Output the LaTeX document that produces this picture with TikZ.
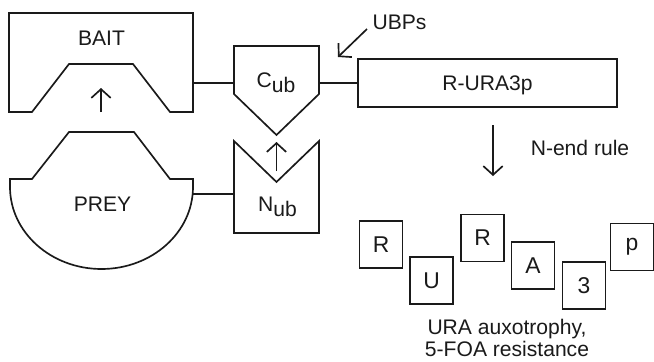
\documentclass[tikz,border=0pt]{standalone}
\usepackage{fontspec}
\setmainfont{Liberation Sans}
\usetikzlibrary{arrows.meta}
\definecolor{Ink}{HTML}{1A1A1A}
\tikzset{
  part/.style={
    draw=Ink, fill=white, line width=0.95pt, line join=miter,
  },
  lnk/.style={
    draw=Ink, line width=0.95pt,
  },
  arr/.style={
    -{Straight Barb[length=5pt,width=11pt]},
    line width=0.95pt, color=Ink,
  },
  lbl/.style={
    font=\fontsize{12}{13}\selectfont, text=Ink,
    inner sep=0pt,
  },
  rbox/.style={
    rectangle, draw=Ink, fill=white, line width=0.95pt,
    font=\fontsize{12}{13}\selectfont, text=Ink, text depth=0pt,
    minimum width=5.18cm, minimum height=0.96cm,
  },
  % one residue of the split reporter
  res/.style={
    rectangle, draw=Ink, fill=white, line width=0.95pt,
    font=\fontsize{13}{15}\selectfont, text=Ink,
    minimum width=0.86cm, minimum height=0.94cm, inner sep=0pt,
  },
}
\newcommand{\halfub}[1]{#1\raisebox{-3.2pt}{ub}}

\begin{document}
\begin{tikzpicture}[x=0.02cm,y=-0.02cm]
  \useasboundingbox (0,0) rectangle (654,362);
  % bait and prey
  \draw[part] (9,13) -- (193,13) -- (193,112) -- (170,112) -- (133,64)
        -- (69,64) -- (32,112) -- (9,112) -- cycle;
  \draw[part] (10,187) -- (10,179) -- (32,179) -- (69,132) -- (134,132)
        -- (170,179) -- (193,179) -- (193,187)
        arc[start angle=0, end angle=180, x radius=91.5, y radius=82] -- cycle;
  \node[lbl, anchor=base] (bait) at (101.5,45.7) {BAIT};
  \node[lbl, anchor=base] (prey) at (102.5,211) {PREY};
  % ubiquitin halves
  \draw[part] (234,46) -- (319,46) -- (319,94) -- (276.5,135) -- (234,94) -- cycle;
  \draw[part] (234,141) -- (276.5,182) -- (319,141) -- (319,233) -- (234,233) -- cycle;
  \node[lbl, anchor=base] (cub) at (276,87.3) {\halfub{C}};
  \node[lbl, anchor=base] (nub) at (277.5,211) {\halfub{N}};
  \node[rbox] (ura) at (487.5,83) {R-URA3p};
  \coordinate (baitE) at (193,83);
  \coordinate (cubW)  at (234,83);
  \coordinate (cubE)  at (319,83);
  \coordinate (preyE) at (193,194);
  \coordinate (nubW)  at (234,194);
  \draw[lnk] (baitE) -- (cubW);
  \draw[lnk] (cubE) -- (ura.west);
  \draw[lnk] (preyE) -- (nubW);
  % binding and cleavage
  \coordinate (bindS) at (101,112);
  \coordinate (bindT) at (101,88);
  \coordinate (reS)   at (276.5,171);
  \coordinate (reT)   at (276.5,142);
  \draw[arr] (bindS) -- (bindT);
  \draw[arr] (reS) -- (reT);
  \node[lbl, anchor=base] (ubp) at (399.5,29) {UBPs};
  \coordinate (ubpS) at (367,29);
  \coordinate (ubpT) at (338,57);
  \draw[arr] (ubpS) -- (ubpT);
  \node[lbl, anchor=base] (nend) at (580,155) {N-end rule};
  \coordinate (nendS) at (493,125);
  \coordinate (nendT) at (493,176);
  \draw[arr] (nendS) -- (nendT);
  % degraded reporter
  \node[res] (r1) at (381,244.5)   {R};
  \node[res] (u)  at (431.5,280.5) {U};
  \node[res] (r2) at (482.5,238)   {R};
  \node[res] (a)  at (533,265.5)   {A};
  \node[res] (n3) at (584,285.5)   {3};
  \node[res] (p)  at (632,247)     {p};
  \node[lbl, align=center, anchor=north] (pheno) at (507,318.5)
        {URA auxotrophy,\\5-FOA resistance};
\end{tikzpicture}
\end{document}
